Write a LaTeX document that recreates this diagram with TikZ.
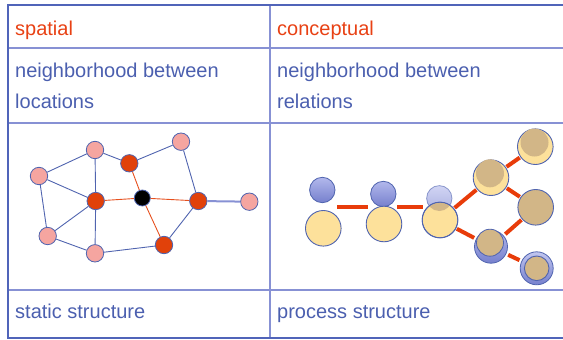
\documentclass[tikz,border=0pt]{standalone}
\usepackage{fontspec}
\setmainfont{Liberation Sans}
\usepackage{tikz}
\usepackage{xcolor}
\definecolor{gridblue}{RGB}{80,100,185}
\definecolor{gridlight}{RGB}{135,145,212}
\definecolor{txtblue}{RGB}{75,95,175}
\definecolor{txtred}{RGB}{232,65,20}
\definecolor{pink}{RGB}{245,165,160}
\definecolor{rust}{RGB}{225,65,10}
\definecolor{edgeblue}{RGB}{80,100,175}
\definecolor{edgered}{RGB}{230,80,30}
\definecolor{ballhi}{RGB}{178,184,236}
\definecolor{balllo}{RGB}{118,128,205}
\definecolor{cream}{RGB}{253,225,155}
\definecolor{tan}{RGB}{210,182,135}
\definecolor{dashred}{RGB}{232,60,10}

\begin{document}
\begin{tikzpicture}[x=1pt,y=-1pt,
  cell/.style={font=\fontsize{20}{30.6}\selectfont, anchor=base west, inner sep=0pt, text=txtblue},
  loc/.style={circle, draw=edgeblue, line width=0.8pt, minimum size=17.4pt, inner sep=0pt},
  ball/.style={circle, draw=edgeblue, line width=0.8pt, inner sep=0pt, minimum size=25.4pt,
    top color=ballhi, bottom color=balllo},
  rel/.style={circle, draw=edgeblue, line width=0.9pt, inner sep=0pt, minimum size=35.6pt, fill=cream},
  link/.style={dashred, line width=4pt, shorten <=19pt, shorten >=19pt}]
  \useasboundingbox (0,0) rectangle (563,340);

  %% table grid
  \draw[gridlight, line width=1.2pt] (8,48) -- (563,48) (8,123) -- (563,123) (8,290) -- (563,290);
  \draw[gridlight, line width=1.2pt] (270,5) -- (270,338);
  \draw[gridblue, line width=2pt] (563,5) -- (8,5) -- (8,338) -- (563,338);

  %% headings and captions (base of a two-line cell = its last line)
  \node[cell, text=txtred] (hsp) at (15,35) {spatial};
  \node[cell, text=txtred] (hco) at (277,35) {conceptual};
  \node[cell, align=left] (nsp) at (15,108.3) {neighborhood between\\locations};
  \node[cell, align=left] (nco) at (277,108.3) {neighborhood between\\relations};
  \node[cell] (ssp) at (15,318) {static structure};
  \node[cell] (sco) at (277,318) {process structure};

  %% spatial graph
  \node[loc, fill=pink] (pa) at (95,150) {};
  \node[loc, fill=pink] (pb) at (181,141.7) {};
  \node[loc, fill=pink] (pc) at (39,176) {};
  \node[loc, fill=pink] (pd) at (249.3,201.7) {};
  \node[loc, fill=pink] (pe) at (47.7,236) {};
  \node[loc, fill=pink] (pf) at (95,253.3) {};
  \node[loc, fill=rust] (ra) at (129.3,163.3) {};
  \node[loc, fill=rust] (rb) at (95.7,201) {};
  \node[loc, fill=rust] (rc) at (198.3,201) {};
  \node[loc, fill=rust] (rd) at (164,245) {};
  \node[loc, fill=black, minimum size=16pt] (c) at (142.3,198) {};
  \draw[edgeblue, line width=0.9pt] (pc) -- (pa) -- (ra) -- (pb) -- (rc) -- (rd) -- (pf) -- (pe) -- (pc)
    (pc) -- (rb) -- (pa) (pe) -- (rb) -- (pf);
  \draw[gridlight, line width=2pt] (rc) -- (pd);
  \draw[edgered, line width=0.9pt] (rb) -- (c) -- (rc) (ra) -- (c) -- (rd);

  %% conceptual graph
  \node[ball] (b1) at (322.3,190) {};
  \node[ball] (b2) at (383.3,194) {};
  \node[ball, opacity=0.6] (b3) at (439.3,198.3) {};
  \node[rel] (y1) at (323.3,228.3) {};
  \node[rel] (y2) at (384,224) {};
  \node[rel] (y3) at (440,220) {};
  \begin{scope}
    \clip (440,220) circle (17.4);
    \fill[tan] (439.3,198.3) circle (12.7);
  \end{scope}
  \draw[edgeblue, line width=0.9pt] (440,220) circle (17.8);
  \node[rel] (t1) at (491,177.7) {};
  \fill[tan] (490,173.3) circle (14);
  \node[rel] (t2) at (535.3,146.7) {};
  \fill[tan] (534.5,142.5) circle (14);
  \node[rel, fill=tan] (m) at (535.7,207.3) {};
  \node[ball, minimum size=33pt] (l1) at (491,246.7) {};
  \draw[edgeblue, line width=0.8pt, fill=tan] (490,242.7) circle (13.5);
  \node[ball, minimum size=33pt, top color=ballhi!80!white, bottom color=balllo] (l2) at (536.7,268.3) {};
  \draw[edgeblue, line width=0.9pt, fill=tan] (536.7,268.3) circle (12.3);

  \coordinate (k1) at (322,207);
  \coordinate (k2) at (384,207);
  \coordinate (k3) at (440,207);
  \draw[dashred, line width=4pt, shorten <=15pt, shorten >=16pt] (k1) -- (k2);
  \draw[dashred, line width=4pt, shorten <=13pt, shorten >=17pt] (k2) -- (k3);
  \draw[link] (y3.center) -- (t1.center);
  \draw[link] (y3.center) -- (l1.center);
  \draw[link] (t1.center) -- (t2.center);
  \draw[link] (t1.center) -- (m.center);
  \draw[link] (l1.center) -- (m.center);
  \draw[link] (l1.center) -- (l2.center);
\end{tikzpicture}
\end{document}
